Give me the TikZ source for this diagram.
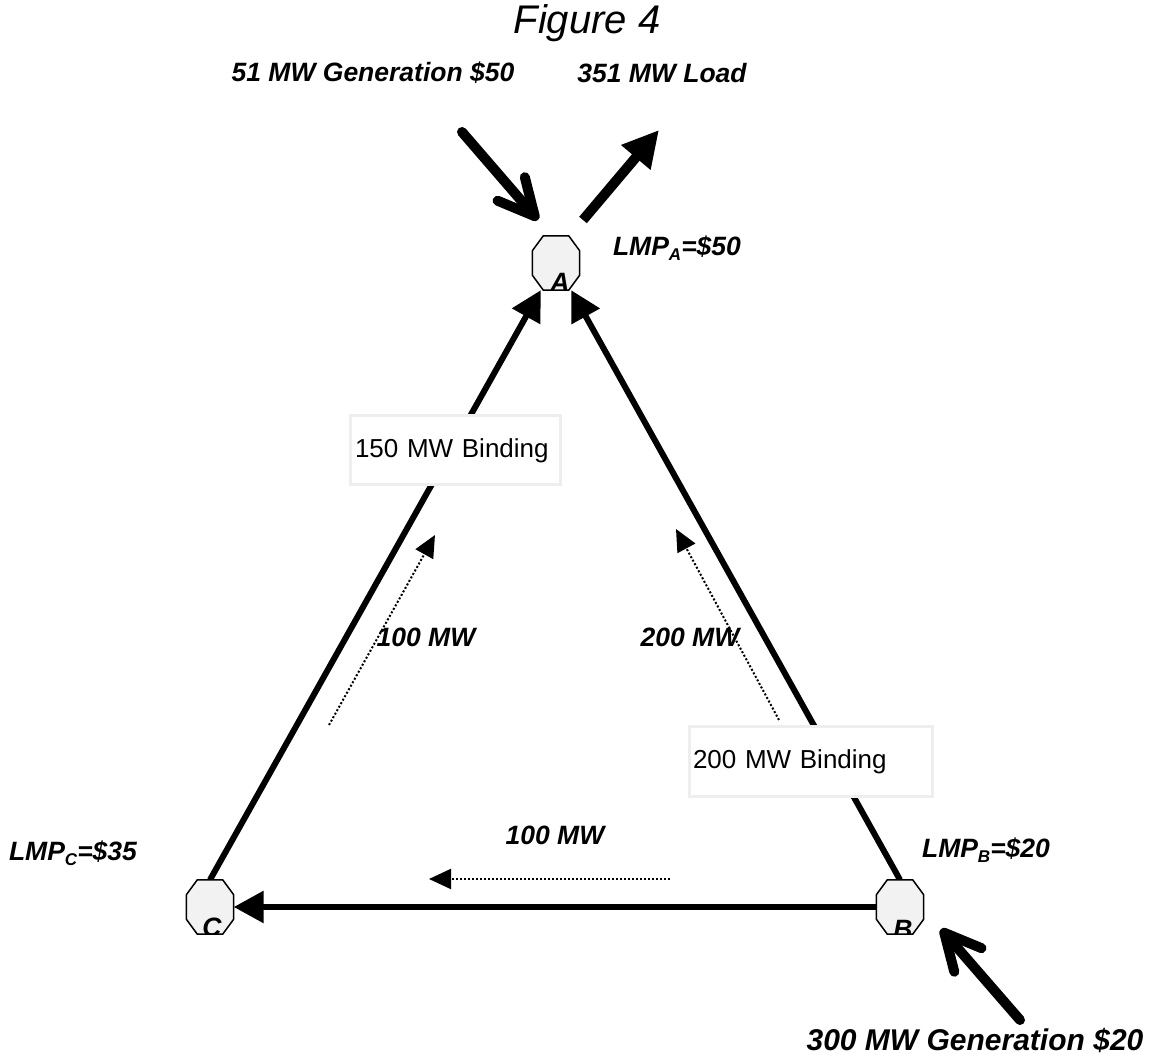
\documentclass[tikz,border=0pt]{standalone}
\usepackage{fontspec}
\setmainfont{Liberation Sans}
\usetikzlibrary{arrows.meta,calc}
\newcommand\lsub[1]{\raisebox{-0.35ex}{\fontsize{17}{17}\selectfont #1}}
\definecolor{busfill}{HTML}{F2F2F2}
\definecolor{boxline}{HTML}{EEEEEE}
\tikzset{
  busnode/.style={rectangle, minimum width=47, minimum height=54, inner sep=0},
  oct/.style={insert path={($(#1.north west)+(11,0)$) -- ($(#1.north east)+(-11,0)$) -- ($(#1.north east)+(0,-15)$) -- ($(#1.south east)+(0,15)$) -- ($(#1.south east)+(-11,0)$) -- ($(#1.south west)+(11,0)$) -- ($(#1.south west)+(0,15)$) -- ($(#1.north west)+(0,-15)$) -- cycle}},
  octstyle/.style={fill=busfill, draw=black, line width=1.5pt, line join=miter},
  tie/.style={line width=6pt, -{Triangle[length=30pt,width=31pt]}},
  flow/.style={line width=2pt, dash pattern=on 2pt off 2pt, -{Triangle[length=22pt,width=20pt]}},
  genarrow/.style={line width=10pt, line cap=round, -{Straight Barb[length=36pt,width=36pt,round]}},
  loadarrow/.style={line width=10pt, -{Triangle[length=36pt,width=36pt]}},
  lbl/.style={font=\fontsize{26.5}{31}\selectfont\bfseries\itshape, inner sep=0},
  bindbox/.style={rectangle, draw=boxline, line width=3pt, fill=white, align=left, inner xsep=0, inner ysep=0, font=\fontsize{26}{31}\selectfont}
}
\begin{document}
\begin{tikzpicture}[x=1pt,y=1pt]
\fill[white] (0,0) rectangle (1175,1059);
\useasboundingbox (0,0) rectangle (1175,1059);

% buses
\node[busnode] (A) at (556,796) {};
\node[busnode] (B) at (900,152) {};
\node[busnode] (C) at (210,152) {};

% transmission lines
\draw[tie] (C.north) -- (A);
\draw[tie] (B.north) -- (A);
\draw[tie] (B) -- (C);

% octagons
\draw[octstyle, oct=A];
\draw[octstyle, oct=B];
\draw[octstyle, oct=C];
\begin{scope}\clip[oct=A]; \node[lbl, anchor=north] (lA) at (560,786) {A}; \end{scope}
\begin{scope}\clip[oct=B]; \node[lbl, anchor=north] (lB) at (903,139) {B}; \end{scope}
\begin{scope}\clip[oct=C]; \node[lbl, anchor=north] (lC) at (212,141) {C}; \end{scope}

% binding boxes
\node[bindbox, minimum width=210, minimum height=69, text width=200] (bx1) at (455,608.5) {150 MW Binding};
\node[bindbox, minimum width=243, minimum height=70, text width=235] (bx2) at (810.5,297) {200 MW Binding};

% flow arrows
\coordinate (d1s) at (329,334); \coordinate (d1e) at (435,524);
\coordinate (d2s) at (779,339); \coordinate (d2e) at (676,530);
\coordinate (d3s) at (670,180); \coordinate (d3e) at (429,180);
\draw[flow] (d1s) -- (d1e);
\draw[flow] (d2s) -- (d2e);
\draw[flow] (d3s) -- (d3e);

% injections
\coordinate (g1s) at (462,927); \coordinate (g1e) at (538,839);
\coordinate (l1s) at (583,839); \coordinate (l1e) at (659,929);
\coordinate (g2s) at (1020,39); \coordinate (g2e) at (941,130);
\draw[genarrow] (g1s) -- (g1e);
\draw[loadarrow] (l1s) -- (l1e);
\draw[genarrow] (g2s) -- (g2e);

% labels
\node[font=\fontsize{40}{44}\selectfont\itshape, inner sep=0] (title) at (587,1036) {Figure 4};
\node[lbl] (t1) at (373,986) {51 MW Generation \$50};
\node[lbl] (t2) at (662,986) {351 MW Load};
\node[lbl, font=\fontsize{30}{34}\selectfont\bfseries\itshape] (t3) at (975,19) {300 MW Generation \$20};
\node[lbl] (pa) at (677,811) {LMP\lsub{A}=\$50};
\node[lbl] (pc) at (73,206) {LMP\lsub{C}=\$35};
\node[lbl] (pb) at (986,209) {LMP\lsub{B}=\$20};
\node[lbl] (f1) at (426,422) {100 MW};
\node[lbl] (f2) at (690,422) {200 MW};
\node[lbl] (f3) at (555,224) {100 MW};
\end{tikzpicture}
\end{document}
